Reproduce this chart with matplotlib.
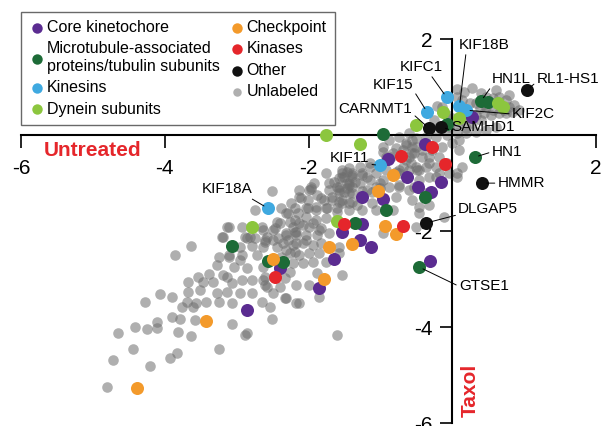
import matplotlib
matplotlib.use('Agg')
import matplotlib.pyplot as plt

plt.rcParams['font.family'] = 'Liberation Sans'
plt.rcParams['axes.unicode_minus'] = False

# log2 change, untreated (x) vs taxol (y)
kinetochore_x = [-0.89, -0.38, -0.63, -0.15, -0.47, -0.29, -1.25, -0.97, 0.28, -0.31,
                 -1.25, -1.53, -1.28, -1.13, -1.65, -2.39, -1.86, -2.86]
kinetochore_y = [-0.50, -0.19, -0.88, -0.98, -1.08, -1.19, -1.29, -1.33, 0.38, -2.63,
                 -1.85, -2.02, -2.19, -2.33, -2.58, -2.77, -3.19, -3.65]

microtubule_x = [-0.96, -0.08, 0.40, 0.50, 0.31, -0.38, -0.92, -1.36, -0.46, -3.07, -2.57, -2.36]
microtubule_y = [0.02, 0.23, 0.71, 0.69, -0.46, -1.29, -1.56, -1.83, -2.75, -2.31, -2.63, -2.65]

kinesin_x = [-0.08, -0.35, 0.10, 0.19, -1.01, -2.57]
kinesin_y = [0.79, 0.48, 0.60, 0.52, -0.63, -1.52]

dynein_x = [-1.75, -1.29, -0.50, -0.13, 0.10, 0.63, 0.71, -2.78, -1.61]
dynein_y = [0.00, -0.19, 0.21, 0.48, 0.35, 0.67, 0.58, -1.92, -1.79]

checkpoint_x = [-0.82, -1.03, -0.94, -0.78, -1.72, -1.40, -2.49, -1.78, -3.42, -4.38]
checkpoint_y = [-0.83, -1.17, -1.90, -2.06, -2.33, -2.27, -2.58, -3.00, -3.88, -5.27]

kinase_x = [-0.71, -0.28, -0.10, -1.51, -0.69, -2.47]
kinase_y = [-0.44, -0.25, -0.60, -1.85, -1.90, -2.96]

other_x = [-0.33, -0.15, 1.04, 0.42, -0.36]
other_y = [0.15, 0.17, 0.94, -1.00, -1.83]

unlabeled = [
    (-2.51, -1.17), (-1.96, -1.13), (-2.10, -1.31), (-2.75, -1.56), (-3.13, -1.92), (-2.93, -1.92),
    (-3.63, -2.31), (-3.86, -2.50), (-3.21, -2.13), (-2.86, -2.15), (-2.61, -2.19), (-2.78, -2.31),
    (-3.10, -2.54), (-3.24, -2.54), (-2.96, -2.60), (-3.28, -2.71), (-2.85, -2.77), (-3.03, -2.75),
    (-3.13, -2.96), (-3.19, -2.92), (-3.38, -2.90), (-3.54, -2.96), (-3.68, -3.06), (-3.47, -3.06),
    (-3.33, -3.06), (-3.06, -3.08), (-2.93, -3.02), (-2.79, -3.02), (-2.64, -3.02), (-4.07, -3.31),
    (-3.90, -3.38), (-3.68, -3.27), (-3.51, -3.23), (-3.28, -3.29), (-3.14, -3.27), (-2.96, -3.29),
    (-2.78, -3.29), (-2.58, -3.17), (-2.50, -3.29), (-4.28, -3.48), (-3.69, -3.48), (-3.56, -3.50),
    (-3.42, -3.48), (-3.24, -3.48), (-3.06, -3.50), (-2.65, -3.48), (-2.33, -3.40), (-2.17, -3.50),
    (-3.90, -3.79), (-3.79, -3.83), (-3.61, -3.58), (-3.58, -3.85), (-3.76, -3.58), (-4.11, -3.90),
    (-4.42, -4.00), (-4.25, -4.04), (-4.11, -4.02), (-4.65, -4.13), (-3.82, -4.10), (-3.63, -4.19),
    (-3.06, -3.94), (-2.89, -4.17), (-2.86, -4.13), (-2.51, -3.83), (-3.24, -4.46), (-4.44, -4.46),
    (-3.83, -4.54), (-3.93, -4.65), (-4.72, -4.69), (-4.21, -4.81), (-4.81, -5.25), (-1.60, -4.17),
    (-2.13, -3.50), (-1.85, -3.38),
    (-2.64, -1.98), (-2.50, -1.98), (-2.40, -1.83), (-2.22, -1.92), (-2.08, -1.88), (-1.94, -1.83),
    (-1.82, -1.94), (-1.71, -2.04), (-2.31, -2.08), (-2.17, -2.08), (-2.03, -2.08), (-1.88, -2.08),
    (-2.61, -2.23), (-2.36, -2.25), (-2.22, -2.29), (-2.08, -2.25), (-1.94, -2.29), (-1.82, -2.25),
    (-1.57, -2.33), (-2.26, -2.46), (-2.13, -2.50), (-1.99, -2.46), (-1.85, -2.46), (-1.57, -2.46),
    (-2.22, -2.67), (-2.08, -2.67), (-1.94, -2.65), (-1.75, -2.65), (-2.64, -2.75), (-2.26, -2.85),
    (-2.61, -2.96), (-2.33, -2.98), (-2.61, -3.13), (-2.40, -3.17), (-2.17, -3.13), (-1.99, -3.13),
    (-1.88, -2.88), (-1.53, -2.92), (-2.31, -3.40), (-2.54, -3.58), (-2.47, -1.94), (-0.97, -2.04),
    (-0.50, -1.92),
    (-1.75, -0.79), (-1.64, -0.98), (-1.50, -0.88), (-1.71, -1.15), (-1.57, -1.15), (-1.46, -1.10),
    (-1.82, -1.31), (-1.67, -1.35), (-1.53, -1.35), (-1.89, -1.56), (-1.75, -1.52), (-1.60, -1.52),
    (-2.03, -1.71), (-1.89, -1.77), (-1.75, -1.73), (-2.13, -1.83), (-1.99, -1.92), (-1.85, -1.98),
    (-2.26, -1.81), (-2.17, -2.02), (-2.44, -1.81), (-2.31, -1.63), (-2.15, -1.63), (-2.01, -1.52),
    (-1.99, -1.15), (-2.13, -1.15), (-1.92, -1.00), (-2.65, -1.92), (-2.82, -2.13), (-2.50, -2.19),
    (-2.03, -2.19), (-2.24, -1.42), (-2.38, -1.52),
    (-0.64, -0.17), (-0.56, -0.10), (-0.78, -0.27), (-0.85, -0.46), (-0.64, -0.52), (-0.53, -0.38),
    (-0.42, -0.46), (-0.32, -0.58), (-0.46, -0.73), (-0.60, -0.73), (-0.74, -0.73), (-1.15, -0.67),
    (-1.25, -0.79), (-1.39, -0.79), (-1.53, -0.73), (-1.57, -0.90), (-1.43, -1.00), (-1.29, -1.00),
    (-1.15, -0.94), (-1.01, -1.00), (-1.11, -1.19), (-1.25, -1.17), (-1.43, -1.21), (-1.57, -1.21),
    (-1.53, -1.42), (-1.39, -1.40), (-1.11, -1.42), (-0.78, -1.29), (-0.60, -1.15), (-0.56, -1.35),
    (-0.83, -1.56), (-1.06, -1.56), (-1.25, -1.56), (-1.43, -1.56), (-1.61, -1.60), (-0.22, -0.88),
    (-0.04, -0.79), (-0.46, -1.50), (-0.32, -1.46),
    (-0.50, -0.06), (-0.36, -0.04), (-0.22, -0.04), (-0.08, 0.00), (0.06, 0.04), (0.19, 0.04),
    (0.33, 0.06), (0.47, 0.10), (0.61, 0.17), (0.10, -0.10), (-0.01, -0.17), (-0.14, -0.25),
    (-0.28, -0.31), (-0.42, -0.31), (-0.56, -0.25), (-0.69, -0.31), (-0.83, -0.38), (-0.60, -0.46),
    (-0.32, -0.46), (-0.18, -0.46), (-0.08, -0.58), (-0.22, -0.67), (-0.36, -0.67), (-0.50, -0.67),
    (-0.92, -0.46), (-0.97, -0.25), (-0.88, -0.10), (-0.74, -0.04), (0.10, -0.31), (0.14, -0.67),
    (0.06, -0.79), (-0.18, -0.79), (-0.32, -0.88), (-0.46, -0.94), (-0.74, -0.79), (-0.92, -0.73),
    (-1.06, -0.79), (-1.19, -0.88), (-1.29, -0.67), (-1.53, -0.88), (-1.57, -1.08), (-1.39, -1.08),
    (-1.19, -1.15), (-1.06, -1.08), (-0.88, -1.08), (-0.74, -1.08), (-0.36, -1.21), (0.07, -0.88),
    (-0.46, -1.63), (-0.11, -1.71),
    (0.07, 0.96), (0.17, 0.90), (0.28, 0.98), (0.40, 0.88), (0.47, 0.79), (0.56, 0.77),
    (0.65, 0.79), (0.75, 0.73), (0.79, 0.58), (0.72, 0.52), (0.56, 0.52), (0.47, 0.58),
    (0.38, 0.56), (0.19, 0.46), (0.14, 0.31), (0.06, 0.21), (-0.08, 0.42), (-0.14, 0.58),
    (0.06, 0.79), (0.14, 0.73), (0.24, 0.67), (0.33, 0.67), (0.44, 0.46), (0.33, 0.42),
    (0.24, 0.35), (-0.04, 0.17), (0.19, 0.15), (0.28, 0.25), (0.40, 0.31), (0.54, 0.42),
    (0.65, 0.46), (0.75, 0.46), (0.83, 0.48), (-0.21, 0.60), (0.00, 0.35), (-0.25, 0.31),
    (0.86, 0.63), (0.93, 0.52), (0.79, 0.83), (0.61, 0.94), (-0.60, 0.04),
    (-1.71, -1.00), (-1.47, -0.77), (-1.40, -0.83), (-1.60, -1.08), (-1.46, -1.00), (-1.36, -0.98),
    (-1.96, -1.08), (-1.88, -1.25), (-2.13, -1.29), (-2.01, -1.35), (-1.78, -1.35), (-1.67, -1.29),
    (-1.50, -1.19), (-1.39, -1.21), (-1.57, -1.40), (-1.43, -1.42), (-1.33, -1.46), (-2.19, -1.52),
    (-2.03, -1.52), (-1.89, -1.50), (-1.74, -1.52),
    (-0.64, -0.21), (-0.50, -0.25), (-0.56, -0.38), (-0.57, -0.58), (-0.97, -0.35), (-1.15, -0.58),
    (-1.43, -0.69), (-1.53, -0.79), (-1.39, -0.88), (-1.25, -0.83), (-1.43, -1.04), (-0.97, -0.94),
    (-0.74, -1.04), (-0.53, -1.08), (-0.69, -0.67), (-0.78, -0.77), (-0.49, -0.73), (-1.01, -1.10),
    (-2.29, -1.63), (-2.19, -1.77), (-3.10, -1.92), (-2.31, -2.04), (-2.19, -2.02), (-3.19, -2.13),
    (-2.89, -2.13), (-2.75, -2.15), (-2.58, -2.13), (-2.43, -2.15), (-2.29, -2.19), (-2.17, -2.25),
    (-2.96, -2.33), (-2.64, -2.33), (-2.44, -2.33), (-2.31, -2.40), (-2.19, -2.44), (-3.10, -2.50),
    (-2.92, -2.50), (-2.72, -2.50), (-2.38, -2.54),
]
unlabeled_x = [p[0] for p in unlabeled]
unlabeled_y = [p[1] for p in unlabeled]

# named genes and their values
gene_names = ['KIF18B', 'KIFC1', 'KIF15', 'CARNMT1', 'SAMHD1', 'HN1L', 'RL1-HS1', 'KIF2C',
              'HN1', 'HMMR', 'KIF11', 'KIF18A', 'DLGAP5', 'GTSE1']
gene_x = [0.10, -0.08, -0.35, -0.33, -0.15, 0.40, 1.04, 0.19, 0.31, 0.42, -1.01, -2.57, -0.36, -0.46]
gene_y = [0.60, 0.79, 0.48, 0.15, 0.17, 0.71, 0.94, 0.52, -0.46, -1.00, -0.63, -1.52, -1.83, -2.75]

ticks = [-6, -4, -2, 2]

fig = plt.figure(figsize=(6.04, 4.26), dpi=100)
ax = fig.add_axes([0.0348, 0.007, 0.952, 0.901])

big = 88
h_gray = ax.scatter(unlabeled_x, unlabeled_y, s=58, color='#6e6e6e', alpha=0.55, lw=0, label='Unlabeled', zorder=2)
h_kin = ax.scatter(kinetochore_x, kinetochore_y, s=big, color='#5b2c91', lw=0, label='Core kinetochore', zorder=3)
h_mt = ax.scatter(microtubule_x, microtubule_y, s=big, color='#1d6b37', lw=0,
                  label='Microtubule-associated\nproteins/tubulin subunits', zorder=3)
h_ks = ax.scatter(kinesin_x, kinesin_y, s=big, color='#3fa9e0', lw=0, label='Kinesins', zorder=3)
h_dy = ax.scatter(dynein_x, dynein_y, s=big, color='#8cc63e', lw=0, label='Dynein subunits', zorder=3)
h_ck = ax.scatter(checkpoint_x, checkpoint_y, s=big, color='#f39a2b', lw=0, label='Checkpoint', zorder=3)
h_ka = ax.scatter(kinase_x, kinase_y, s=big, color='#e5262b', lw=0, label='Kinases', zorder=3)
h_ot = ax.scatter(other_x, other_y, s=big, color='#111111', lw=0, label='Other', zorder=3)

# label text spots (x, y, relpos)
spots = [(0.44, 1.88, (0.15, 0)), (-0.43, 1.42, (0.7, 0)),
         (-0.83, 1.04, (1, 0.2)), (-1.07, 0.54, (1, 0.2)),
         (0.43, 0.16, (0, 0.3)), (0.82, 1.17, (0, 0)),
         (1.61, 1.17, (0, 0.3)), (1.13, 0.44, (0, 0.5)),
         (0.76, -0.35, (0, 0.5)), (0.96, -1.00, (0, 0.5)),
         (-1.43, -0.48, (0.9, 0.1)), (-3.13, -1.13, (0.9, 0)),
         (0.50, -1.54, (0, 0.1)), (0.44, -3.15, (0, 0.5))]
for name, gx, gy, (tx, ty, rp) in zip(gene_names, gene_x, gene_y, spots):
    ax.annotate(name, xy=(gx, gy), xytext=(tx, ty), ha='center', va='center', fontsize=11, zorder=5,
                arrowprops=dict(arrowstyle='-', lw=0.7, color='k', shrinkA=0, shrinkB=3, relpos=rp))

ax.set_xlim(-6, 2)
ax.set_ylim(-6, 2)
for s in ['top', 'right']:
    ax.spines[s].set_visible(False)
ax.spines['left'].set_position(('data', 0))
ax.spines['bottom'].set_position(('data', 0))
ax.spines['left'].set_linewidth(1.5)
ax.spines['bottom'].set_linewidth(1.5)
ax.set_xticks(ticks)
ax.set_yticks(ticks)
ax.set_xticklabels([str(t) for t in ticks])
ax.set_yticklabels([str(t) for t in ticks])
ax.tick_params(direction='out', length=9, width=1.2, labelsize=15)
ax.tick_params(axis='x', pad=8)
ax.tick_params(axis='y', pad=5)
ax.patch.set_visible(False)

ax.text(-5.01, -0.33, 'Untreated', color='#e5262b', fontsize=15, fontweight='bold', ha='center', va='center')
ax.text(0.25, -5.31, 'Taxol', color='#e5262b', fontsize=15, fontweight='bold', ha='center', va='center',
        rotation=90)

leg = fig.legend(handles=[h_kin, h_mt, h_ks, h_dy, h_ck, h_ka, h_ot, h_gray], ncol=2,
                 loc='upper left', bbox_to_anchor=(21 / 604, 1 - 12 / 426), borderaxespad=0,
                 fontsize=11.5, frameon=True, fancybox=False, edgecolor='#444444',
                 handletextpad=0.1, columnspacing=0.6, labelspacing=0.4, markerscale=0.8,
                 handlelength=1.0, borderpad=0.5)
leg.get_frame().set_linewidth(1.0)

fig.savefig('out.png', dpi=100)
